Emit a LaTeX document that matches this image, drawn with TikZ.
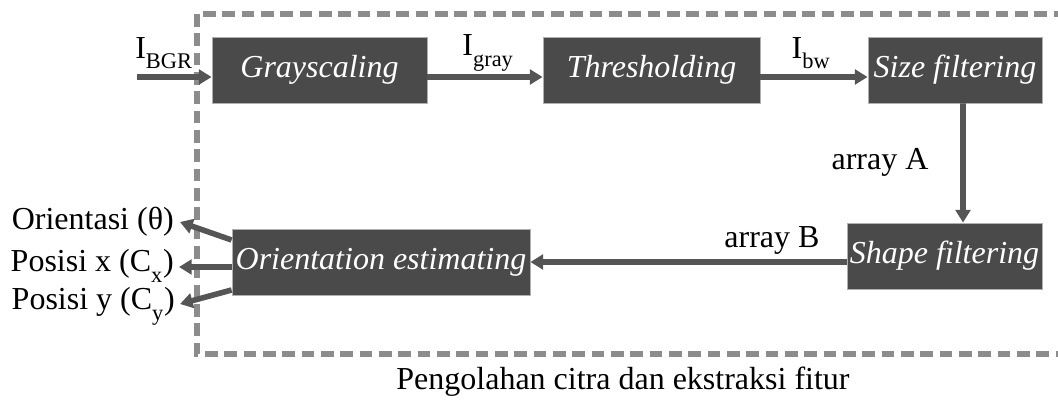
\documentclass[tikz,border=0pt]{standalone}
\usepackage{fontspec}
\setmainfont{Liberation Serif}
\usetikzlibrary{arrows.meta}
\definecolor{boxfill}{HTML}{4A4A4A}
\definecolor{boxline}{HTML}{B0B0B0}
\definecolor{arrowc}{HTML}{555555}
\definecolor{dashc}{HTML}{8C8C8C}
\tikzset{
  procbox/.style={draw=boxline, line width=0.6pt, fill=boxfill, text=white,
    font=\fontsize{24}{28}\selectfont\itshape, minimum height=49.5pt, inner sep=0pt},
  flow/.style={draw=arrowc, line width=4.2pt, -{Triangle[length=9.5pt,width=11pt]}},
  lbl/.style={font=\fontsize{24}{28}\selectfont, text=black, inner sep=0pt},
  frame/.style={draw=dashc, line width=3.8pt, dash pattern=on 9.5pt off 5pt}
}
\newcommand{\sbs}[1]{\textsubscript{\raisebox{-0.55ex}{#1}}}
\begin{document}
\begin{tikzpicture}[x=0.75pt,y=-0.75pt]
\useasboundingbox (0,0) rectangle (1058,400);
\draw[frame] (197,14) rectangle (1065,354);
\node[procbox, minimum width=161.25pt] (gray) at (319.5,70) {Grayscaling};
\node[procbox, minimum width=162.75pt] (thr) at (651.5,70) {Thresholding};
\node[procbox, minimum width=130.5pt] (size) at (955,70) {Size filtering};
\node[procbox, minimum width=146.25pt] (shape) at (944.5,256) {Shape filtering};
\node[procbox, minimum width=223.5pt] (orient) at (381,262) {Orientation estimating};
\coordinate (in) at (137,77);
\draw[flow] (in) -- (in -| gray.west);
\draw[flow] (gray.east |- in) -- (thr.west |- in);
\draw[flow] (thr.east |- in) -- (size.west |- in);
\draw[flow] ([xshift=6pt]size.south) -- ([xshift=13.9pt]shape.north);
\draw[flow] (shape.west |- orient) -- (orient.east);
\node[lbl] (ibgr) at (164,53) {I\sbs{BGR}};
\node[lbl] (igray) at (488,53) {I\sbs{gray}};
\node[lbl] (ibw) at (811,53) {I\sbs{bw}};
\node[lbl] (arrA) at (880,162) {array A};
\node[lbl] (arrB) at (772,240) {array B};
\node[lbl, anchor=east] (theta) at (174,222) {Orientasi (θ)};
\node[lbl, anchor=east] (cx) at (174,266) {Posisi x (C\sbs{x})};
\node[lbl, anchor=east] (cy) at (175,306) {Posisi y (C\sbs{y})};
\coordinate (t1) at (180,222);
\coordinate (t2) at (179,267);
\coordinate (t3) at (180,304);
\draw[flow] ([yshift=16.5pt]orient.west) -- (t1);
\draw[flow] (orient.west |- t2) -- (t2);
\draw[flow] ([yshift=-21pt]orient.west) -- (t3);
\node[lbl] (cap) at (623,382) {Pengolahan citra dan ekstraksi fitur};
\end{tikzpicture}
\end{document}
